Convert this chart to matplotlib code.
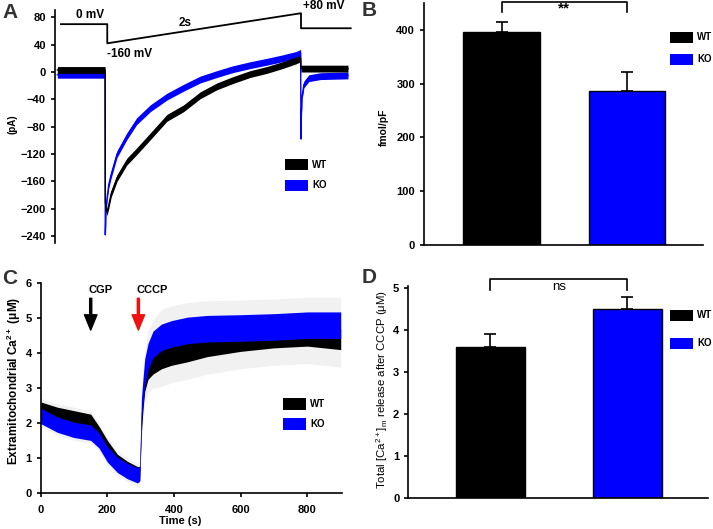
import matplotlib
matplotlib.use('Agg')
import matplotlib.pyplot as plt
from matplotlib.patches import Rectangle

plt.rcParams['font.family'] = ['Liberation Sans', 'DejaVu Sans']
plt.rcParams['font.weight'] = 'bold'
plt.rcParams['mathtext.default'] = 'regular'

BLUE = '#0000fe'

# --- panel A: current traces (ms from start of ramp), pA ---
t_a = [-490, -250, -2, 0, 8, 17, 35, 60, 120, 220, 320, 460, 630, 800, 970,
       1140, 1300, 1480, 1650, 1810, 1950, 1996, 2000, 2004, 2012, 2030,
       2080, 2200, 2480]
wt_a = [3, 3, 3, -190, -200, -205, -195, -178, -155, -131, -116, -94, -67,
        -53, -34, -21, -12, -3, 3, 10, 17, 20, 5, 5, 5, 5, 5, 5, 5]
ko_a = [-4, -4, -4, -238, -200, -185, -165, -150, -120, -94, -72, -53, -36,
        -23, -11, -3, 4, 10, 15, 20, 25, 28, -98, -60, -35, -18, -9, -6, -5]
# voltage protocol drawn above the traces
prot_t = [-453, 20, 20, 2000, 2000, 2508]
prot_y = [70, 70, 42, 86, 64, 64]

# --- panel B ---
groups = ['WT', 'KO']
b_vals = [396, 287]
b_err = [18, 35]

# --- panel C: extramitochondrial Ca2+ (uM) vs time (s) ---
t_c = [0, 50, 100, 150, 175, 200, 230, 260, 290, 297, 302, 307, 312, 322,
       337, 362, 392, 440, 500, 600, 700, 800, 900]
wt_c = [2.4, 2.25, 2.15, 2.05, 1.7, 1.3, 0.9, 0.7, 0.55, 0.55, 2.0, 2.7,
        3.2, 3.55, 3.7, 3.85, 3.95, 4.05, 4.2, 4.35, 4.45, 4.5, 4.4]
ko_c = [2.2, 1.95, 1.8, 1.72, 1.5, 1.1, 0.8, 0.62, 0.5, 0.55, 2.3, 2.9,
        3.45, 3.9, 4.25, 4.45, 4.55, 4.65, 4.7, 4.72, 4.75, 4.8, 4.8]
sem_c = [0.3, 0.3, 0.3, 0.3, 0.3, 0.3, 0.3, 0.3, 0.3, 0.4, 0.5, 0.6, 0.6,
         0.7, 0.7, 0.8, 0.8, 0.8, 0.8, 0.8, 0.8, 0.8, 0.8]

# --- panel D ---
d_vals = [3.59, 4.50]
d_err = [0.31, 0.30]

W, H = 713, 529
fig = plt.figure(figsize=(W / 100, H / 100), dpi=100)


def box(l, t, r, b):
    return [l / W, 1 - b / H, (r - l) / W, (b - t) / H]


def key(x, y, color, label, h=11):
    fig.add_artist(Rectangle((x / W, 1 - (y + h) / H), 23 / W, h / H,
                             facecolor=color, edgecolor='none',
                             transform=fig.transFigure))
    fig.text((x + 27) / W, 1 - (y + h / 2) / H, label, fontsize=7,
             va='center', ha='left')


def style(ax, bottom=True):
    for s in ['top', 'right']:
        ax.spines[s].set_visible(False)
    ax.spines['bottom'].set_visible(bottom)
    for s in ax.spines.values():
        s.set_linewidth(1.2)
    ax.tick_params(direction='out', length=3, width=1.2, labelsize=8, pad=3.5)
    ax.tick_params(axis='x', pad=5.5)


# A
axA = fig.add_axes(box(55, 10, 351, 243))
band = 5
axA.fill_between(t_a, [v - band for v in ko_a], [v + band for v in ko_a],
                 color=BLUE, lw=0)
axA.plot(t_a, ko_a, color=BLUE, lw=1)
axA.fill_between(t_a, [v - band for v in wt_a], [v + band for v in wt_a],
                 color='black', lw=0)
axA.plot(t_a, wt_a, color='black', lw=1)
axA.plot(prot_t, prot_y, color='black', lw=1.3, clip_on=False)
axA.text(-155, 83, '0 mV', fontsize=8.5, ha='center', va='center')
axA.text(814, 71, '2s', fontsize=8.5, ha='center', va='center')
axA.text(17, 27, '-160 mV', fontsize=8.5, ha='left', va='center')
axA.text(2023, 96, '+80 mV', fontsize=8.5, ha='left', va='center')
axA.set_xlim(-514, 2511)
axA.set_ylim(-250, 90.7)
axA.set_yticks(range(-240, 81, 40))
axA.set_xticks([])
style(axA, bottom=False)
key(285, 159, 'black', 'WT')
key(285, 180, BLUE, 'KO')
fig.text(12 / W, 1 - 124 / H, '(pA)', rotation=90, fontsize=7,
         ha='center', va='center')

# B
axB = fig.add_axes(box(424, 3, 703, 245))
xb = range(len(groups))
axB.bar(xb, b_vals, width=0.61, color=['black', BLUE], edgecolor='black',
        linewidth=1)
axB.errorbar(xb, b_vals, yerr=[[0, 0], b_err], fmt='none', ecolor='black',
             elinewidth=1.2, capsize=4, capthick=1.2)
axB.plot([0, 0, 1, 1], [434, 452, 452, 434], color='black', lw=1.2,
         clip_on=False)
axB.text(0.5, 439, '**', fontsize=11, ha='center', va='center')
axB.set_xlim(-0.62, 1.61)
axB.set_ylim(0, 450)
axB.set_yticks(range(0, 401, 100))
axB.set_xticks([])
style(axB)
key(670, 32, 'black', 'WT')
key(670, 54, BLUE, 'KO')
fig.text(384 / W, 1 - 127 / H, 'fmol/pF', rotation=90, fontsize=7.5,
         ha='center', va='center')

# C
axC = fig.add_axes(box(40.7, 283.3, 341.7, 492.7))
for vals in [wt_c, ko_c]:
    axC.fill_between(t_c, [v - s for v, s in zip(vals, sem_c)],
                     [v + s for v, s in zip(vals, sem_c)],
                     color='#f1f1f1', lw=0)
nw = [0.2 if t < 300 else 0.3 for t in t_c]
axC.fill_between(t_c, [v - n for v, n in zip(wt_c, nw)],
                 [v + n for v, n in zip(wt_c, nw)], color='black', lw=0)
nk = [0.22 if t < 300 else 0.38 for t in t_c]
axC.fill_between(t_c, [v - n for v, n in zip(ko_c, nk)],
                 [v + n for v, n in zip(ko_c, nk)], color=BLUE, lw=0)
axC.annotate('', xy=(150, 4.66), xytext=(150, 5.57),
             arrowprops=dict(facecolor='black', edgecolor='black', width=1.5,
                             headwidth=9, headlength=11))
axC.annotate('', xy=(293, 4.66), xytext=(293, 5.57),
             arrowprops=dict(facecolor='#ee1111', edgecolor='#ee1111',
                             width=1.5, headwidth=9, headlength=11))
axC.text(143, 5.8, 'CGP', fontsize=8, ha='left', va='center')
axC.text(288, 5.8, 'CCCP', fontsize=8, ha='left', va='center')
axC.set_xlim(0, 903)
axC.set_ylim(0, 6)
axC.set_xticks(range(0, 801, 200))
axC.set_yticks(range(0, 7))
style(axC)
key(283, 398, 'black', 'WT', h=12)
key(283, 418, BLUE, 'KO', h=12)
fig.text(14 / W, 1 - 381 / H, 'Extramitochondrial Ca$^{2+}$ (\u03bcM)',
         rotation=90, fontsize=8.5, ha='center', va='center')
fig.text(180 / W, 1 - 521 / H, 'Time (s)', fontsize=8, ha='center',
         va='center')

# D
axD = fig.add_axes(box(408.3, 286.2, 708, 497.7))
axD.bar(xb, d_vals, width=0.506, color=['black', BLUE], edgecolor='black',
        linewidth=1)
axD.errorbar(xb, d_vals, yerr=[[0, 0], d_err], fmt='none', ecolor='black',
             elinewidth=1.2, capsize=4, capthick=1.2)
axD.plot([0, 0, 1, 1], [4.96, 5.22, 5.22, 4.96], color='black', lw=1.2,
         clip_on=False)
axD.text(0.5, 5.02, 'ns', fontsize=9.5, fontweight='normal', ha='center',
         va='center')
axD.set_xlim(-0.599, 1.59)
axD.set_ylim(0, 5.05)
axD.set_yticks(range(0, 6))
axD.set_xticks([])
style(axD)
key(670, 310, 'black', 'WT')
key(670, 338, BLUE, 'KO')
fig.text(382 / W, 1 - 389 / H,
         'Total [Ca$^{2+}$]$_{m}$ release after CCCP (\u03bcM)',
         rotation=90, fontsize=8.2, fontweight='normal', ha='center',
         va='center')

# panel letters
for x, y, s in [(2, 3, 'A'), (362, 1, 'B'), (2, 269, 'C'), (362, 268, 'D')]:
    fig.text(x / W, 1 - y / H, s, fontsize=15, color='#333333',
             ha='left', va='top')

fig.savefig('out.png', dpi=100)
